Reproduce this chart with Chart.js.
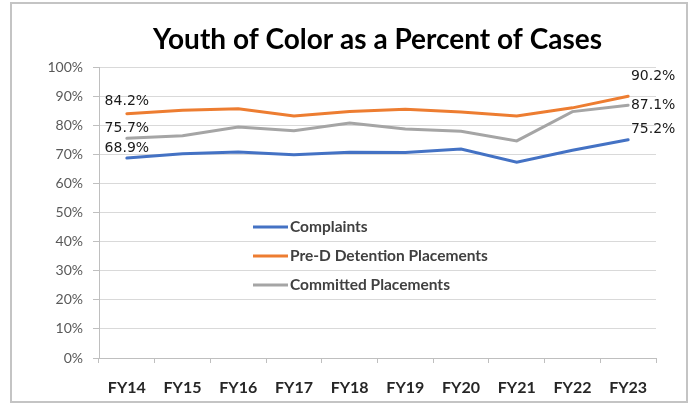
<!DOCTYPE html>
<html lang="en">
<head>
    <meta charset="UTF-8">
    <title>Youth of Color as a Percent of Cases</title>
    <script src="https://cdn.jsdelivr.net/npm/chart.js"></script>
    <style>
        * { margin: 0; padding: 0; box-sizing: border-box; }
        body { background: #fff; width: 691px; height: 404px; overflow: hidden; }
        #yocChart { display: block; }
    </style>
</head>
<body>
    <canvas id="yocChart" width="691" height="404"></canvas>

    <script>
        // Fiscal years on the x axis
        const categories = ['FY14', 'FY15', 'FY16', 'FY17', 'FY18', 'FY19', 'FY20', 'FY21', 'FY22', 'FY23'];

        // Percent of cases
        const complaints = [68.9, 70.4, 71.0, 70.0, 70.9, 70.8, 72.0, 67.5, 71.6, 75.2];
        const preDetention = [84.2, 85.4, 85.9, 83.4, 84.9, 85.7, 84.8, 83.4, 86.2, 90.2];
        const committed = [75.7, 76.6, 79.6, 78.3, 81.0, 78.9, 78.1, 74.8, 84.9, 87.1];

        const seriesNames = ['Complaints', 'Pre-D Detention Placements', 'Committed Placements'];

        // Outer frame around the whole chart
        const framePlugin = {
            id: 'frame',
            beforeDraw(chart) {
                const c = chart.ctx;
                c.save();
                c.fillStyle = '#fff';
                c.fillRect(0, 0, chart.width, chart.height);
                c.strokeStyle = '#c4c4c4';
                c.lineWidth = 2;
                c.strokeRect(11, 3, 676, 399);
                c.restore();
            }
        };

        // Labels on first and last point of each line (offsets from the point)
        const labelSpots = {
            0: { first: [0, -10], last: [25, -10] },
            1: { first: [0, -12], last: [25, -20] },
            2: { first: [0, -10], last: [25, 0] }
        };

        const endLabelsPlugin = {
            id: 'endLabels',
            afterDatasetsDraw(chart) {
                const c = chart.ctx;
                c.save();
                c.font = '14px "DejaVu Sans"';
                c.fillStyle = '#1a1a1a';
                c.textAlign = 'center';
                c.textBaseline = 'middle';
                chart.data.datasets.forEach((ds, i) => {
                    const pts = chart.getDatasetMeta(i).data;
                    const n = pts.length - 1;
                    const spot = labelSpots[i];
                    c.fillText(ds.data[0].toFixed(1) + '%', pts[0].x + spot.first[0], pts[0].y + spot.first[1]);
                    c.fillText(ds.data[n].toFixed(1) + '%', pts[n].x + spot.last[0], pts[n].y + spot.last[1]);
                });
                c.restore();
            }
        };

        // Legend drawn inside the plot area
        const innerLegendPlugin = {
            id: 'innerLegend',
            afterDraw(chart) {
                const c = chart.ctx;
                const a = chart.chartArea;
                const x0 = a.left + 154;
                const y0 = 227;
                c.save();
                c.font = 'bold 15.5px Lato';
                c.textBaseline = 'middle';
                c.textAlign = 'left';
                chart.data.datasets.forEach((ds, i) => {
                    const y = y0 + i * 29;
                    c.strokeStyle = ds.borderColor;
                    c.lineWidth = 3;
                    c.beginPath();
                    c.moveTo(x0, y);
                    c.lineTo(x0 + 35, y);
                    c.stroke();
                    c.fillStyle = '#404040';
                    c.fillText(ds.label, x0 + 37, y);
                });
                c.restore();
            }
        };

        const ctx = document.getElementById('yocChart').getContext('2d');

        new Chart(ctx, {
            type: 'line',
            data: {
                labels: categories,
                datasets: [
                    { label: seriesNames[0], data: complaints, borderColor: '#4472C4' },
                    { label: seriesNames[1], data: preDetention, borderColor: '#ED7D31' },
                    { label: seriesNames[2], data: committed, borderColor: '#A5A5A5' }
                ]
            },
            options: {
                responsive: false,
                animation: false,
                devicePixelRatio: 1,
                layout: { padding: { left: 20, right: 35, top: 0, bottom: 7 } },
                elements: {
                    line: { borderWidth: 3, tension: 0, borderCapStyle: 'round' },
                    point: { radius: 0, hoverRadius: 0 }
                },
                scales: {
                    x: {
                        offset: true,
                        grid: {
                            offset: true,
                            drawOnChartArea: false,
                            drawTicks: true,
                            tickLength: 5,
                            color: '#bfbfbf'
                        },
                        border: { color: '#bfbfbf' },
                        ticks: {
                            color: '#262626',
                            padding: 15,
                            maxRotation: 0,
                            autoSkip: false,
                            font: { family: 'Lato', size: 16, weight: 'bold' }
                        },
                        afterFit(scale) { scale.height = 39; }
                    },
                    y: {
                        min: 0,
                        max: 100,
                        ticks: {
                            stepSize: 10,
                            autoSkip: false,
                            color: '#595959',
                            padding: 10,
                            font: { family: 'Lato', size: 14 },
                            callback: v => v + '%'
                        },
                        grid: {
                            color: '#d9d9d9',
                            tickLength: 6,
                            tickColor: '#bfbfbf'
                        },
                        border: { color: '#bfbfbf' },
                        afterFit(scale) { scale.width = 79; }
                    }
                },
                plugins: {
                    legend: { display: false },
                    tooltip: { enabled: false },
                    title: {
                        display: true,
                        fullSize: false,
                        text: 'Youth of Color as a Percent of Cases',
                        color: '#000',
                        font: { family: 'Lato', size: 28, weight: 'bold', lineHeight: 1.1 },
                        padding: { top: 25, bottom: 12 }
                    }
                }
            },
            plugins: [framePlugin, endLabelsPlugin, innerLegendPlugin]
        });
    </script>
</body>
</html>
